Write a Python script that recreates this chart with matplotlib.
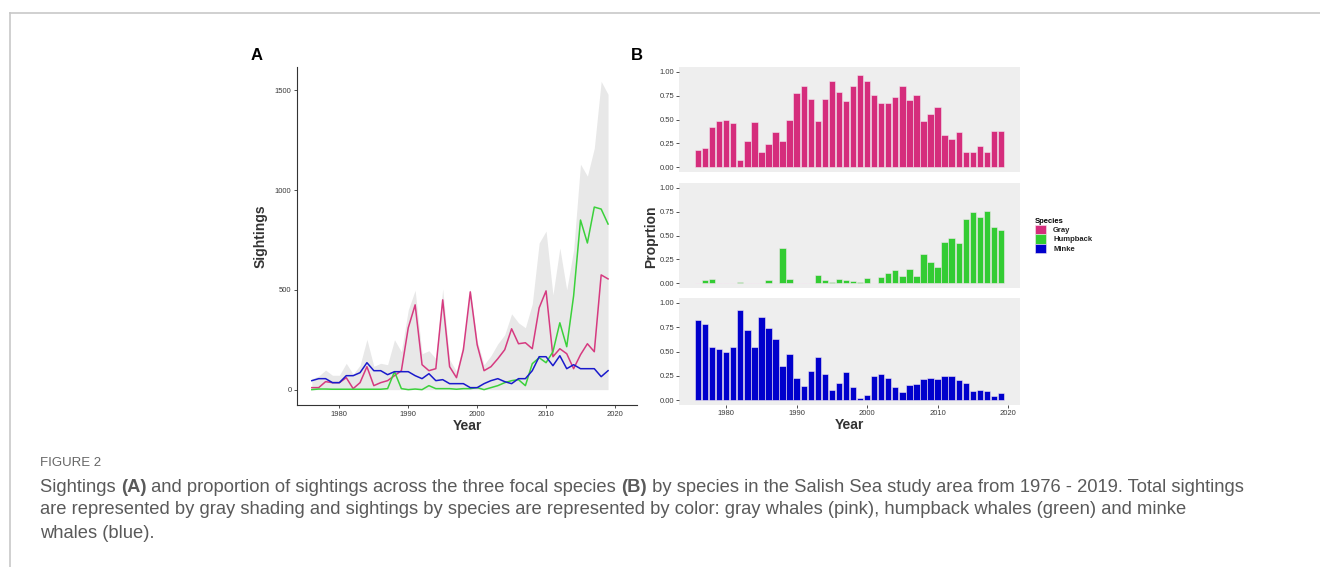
import numpy as np
import matplotlib
matplotlib.use("Agg")
import matplotlib.pyplot as plt
from matplotlib.patches import Patch
from matplotlib.lines import Line2D

plt.rcParams['font.family'] = ['Liberation Sans', 'DejaVu Sans']

# data
years = np.arange(1976, 2020)

gray_counts = [10, 10, 40, 35, 35, 60, 5, 35, 115, 20, 35, 45, 70, 95, 310, 425,
               125, 95, 105, 450, 115, 60, 200, 490, 225, 95, 115, 155, 200, 305,
               230, 235, 205, 410, 495, 165, 205, 180, 105, 175, 230, 190, 575, 555]
humpback_counts = [0, 3, 3, 2, 2, 2, 2, 2, 2, 2, 2, 5, 90, 5, 0, 3,
                   0, 20, 5, 5, 5, 2, 5, 5, 10, 0, 10, 20, 35, 45,
                   50, 20, 130, 160, 135, 190, 335, 215, 470, 850, 735, 915, 905, 830]
minke_counts = [45, 55, 55, 35, 35, 70, 70, 85, 135, 95, 95, 75, 90, 90, 90, 70,
                55, 80, 45, 50, 30, 30, 30, 10, 10, 30, 45, 55, 40, 30,
                55, 55, 95, 165, 165, 120, 170, 105, 125, 105, 105, 105, 65, 95]

gray_prop = [0.18, 0.20, 0.42, 0.48, 0.50, 0.46, 0.08, 0.28, 0.47, 0.16, 0.24, 0.37, 0.28, 0.50,
             0.78, 0.85, 0.71, 0.48, 0.71, 0.90, 0.79, 0.69, 0.85, 0.97, 0.90, 0.76, 0.67, 0.67,
             0.74, 0.85, 0.705, 0.76, 0.48, 0.56, 0.63, 0.34, 0.295, 0.37, 0.16, 0.16, 0.22, 0.16,
             0.38, 0.38]
humpback_prop = [0.0, 0.034, 0.044, 0.0, 0.0, 0.0, 0.01, 0.0, 0.0, 0.0, 0.034, 0.007, 0.37, 0.04,
                 0.0, 0.005, 0.0, 0.09, 0.03, 0.012, 0.045, 0.035, 0.025, 0.012, 0.06, 0.0, 0.07,
                 0.11, 0.14, 0.08, 0.15, 0.08, 0.31, 0.22, 0.17, 0.43, 0.47, 0.42, 0.67, 0.75, 0.69,
                 0.76, 0.59, 0.56]
minke_prop = [0.825, 0.78, 0.545, 0.53, 0.50, 0.545, 0.925, 0.72, 0.545, 0.85, 0.74, 0.63, 0.35, 0.47,
              0.23, 0.145, 0.30, 0.44, 0.27, 0.10, 0.18, 0.285, 0.13, 0.025, 0.055, 0.25, 0.27, 0.23,
              0.14, 0.08, 0.155, 0.17, 0.22, 0.23, 0.215, 0.245, 0.245, 0.205, 0.18, 0.095, 0.10, 0.09,
              0.047, 0.07]

species = ['Gray', 'Humpback', 'Minke']
bar_colors = ['#D52D7C', '#33CC33', '#0000CC']
line_colors = ['#D63A80', '#3BD13B', '#1A1ACC']

total_counts = np.array(gray_counts) + np.array(humpback_counts) + np.array(minke_counts)

W, H = 1320, 567
fig = plt.figure(figsize=(W / 100, H / 100), dpi=100)


def box(left, top, right, bottom):
    return [left / W, 1 - bottom / H, (right - left) / W, (bottom - top) / H]


tick_color = '#3A3A3A'

# page border
fig.add_artist(Line2D([10 / W, 1], [1 - 12.5 / H, 1 - 12.5 / H], color='#C8C8C8', lw=1.2))
fig.add_artist(Line2D([10 / W, 10 / W], [0, 1 - 12.5 / H], color='#C8C8C8', lw=1.2))

# ---- panel A
axA = fig.add_axes(box(297, 67, 637, 405))
axA.fill_between(years, 0, total_counts, color='#E8E8E8', lw=0)
for vals, c in zip([gray_counts, humpback_counts, minke_counts], line_colors):
    axA.plot(years, vals, color=c, lw=1.1)
axA.set_xlim(1973.85, 2023.2)
axA.set_ylim(-77, 1617)
axA.set_xticks([1980, 1990, 2000, 2010, 2020])
axA.set_yticks([0, 500, 1000, 1500])
axA.spines['top'].set_visible(False)
axA.spines['right'].set_visible(False)
for s in ['left', 'bottom']:
    axA.spines[s].set_color('#333333')
    axA.spines[s].set_linewidth(0.8)
axA.tick_params(labelsize=5.5, colors='#333333', labelcolor=tick_color, length=2, width=0.6, pad=2)
axA.set_xlabel('Year', fontsize=10, fontweight='bold', color='#333333', labelpad=1)
axA.set_ylabel('Sightings', fontsize=10, fontweight='bold', color='#333333', labelpad=5)
fig.text(257 / W, 1 - 56 / H, 'A', fontsize=12, fontweight='bold', ha='center', va='center')

# ---- panel B
panels = [(67, 172), (183, 288), (298, 405)]
props = [gray_prop, humpback_prop, minke_prop]
axesB = []
for (top, bottom), vals, c in zip(panels, props, bar_colors):
    ax = fig.add_axes(box(679, top, 1020, bottom))
    ax.set_facecolor('#EEEEEE')
    ax.bar(years, vals, width=0.9, color=c, edgecolor='#F2E6EE', linewidth=0.4)
    ax.set_xlim(1973.3, 2021.7)
    ax.set_ylim(-0.05, 1.05)
    ax.set_yticks([0, 0.25, 0.5, 0.75, 1.0])
    ax.set_yticklabels(['0.00', '0.25', '0.50', '0.75', '1.00'])
    ax.set_xticks([1980, 1990, 2000, 2010, 2020])
    for s in ax.spines.values():
        s.set_visible(False)
    ax.tick_params(labelsize=5.5, colors='#333333', labelcolor=tick_color, length=2, width=0.6, pad=1.5)
    axesB.append(ax)
for ax in axesB[:2]:
    ax.tick_params(axis='x', bottom=False, labelbottom=False)
axesB[2].set_xlabel('Year', fontsize=10, fontweight='bold', color='#333333', labelpad=1)
fig.text(651 / W, 1 - 237 / H, 'Proprtion', fontsize=10, fontweight='bold', color='#333333',
         rotation=90, ha='center', va='center')
fig.text(637 / W, 1 - 56 / H, 'B', fontsize=12, fontweight='bold', ha='center', va='center')

handles = [Patch(facecolor=c, edgecolor='#F2E6EE', lw=0.4) for c in bar_colors]
leg = fig.legend(handles, species, loc='upper left', bbox_to_anchor=(1028 / W, 1 - 211 / H),
                 frameon=False, fontsize=5.5, title='Species', title_fontsize=5.5,
                 handlelength=1.5, handleheight=1.5, labelspacing=0.0, handletextpad=0.9,
                 alignment='left')
leg.get_title().set_fontweight('bold')
for t in leg.get_texts():
    t.set_fontweight('bold')
    t.set_color('#222222')

# ---- caption
cap_color = '#5A5A5A'
cap_font = ['Liberation Sans Narrow', 'Liberation Sans', 'DejaVu Sans']
fig.text(40 / W, 1 - 463 / H, 'FIGURE 2', fontsize=9.5, color='#666666', family=cap_font,
         va='center')

caption_lines = [
    [('Sightings ', 'normal'), ('(A)', 'bold'),
     (' and proportion of sightings across the three focal species ', 'normal'), ('(B)', 'bold'),
     (' by species in the Salish Sea study area from 1976 - 2019. Total sightings', 'normal')],
    [('are represented by gray shading and sightings by species are represented by color: '
      'gray whales (pink), humpback whales (green) and minke', 'normal')],
    [('whales (blue).', 'normal')],
]
renderer = fig.canvas.get_renderer()
line_y = [487, 510, 533]
for segs, y in zip(caption_lines, line_y):
    x = 40
    for txt, wt in segs:
        t = fig.text(x / W, 1 - y / H, txt, fontsize=13.2, color=cap_color, fontweight=wt,
                     family=cap_font, va='center')
        x += t.get_window_extent(renderer).width

fig.savefig('out.png', dpi=100)
